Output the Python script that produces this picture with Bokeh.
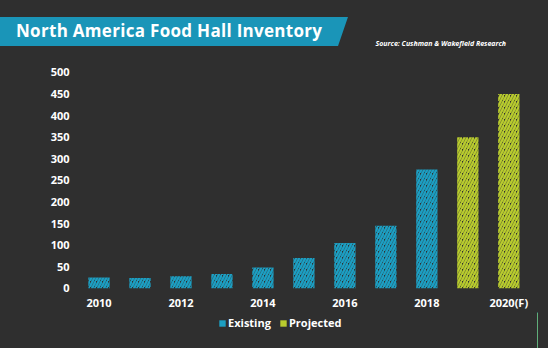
from bokeh.plotting import figure
from bokeh.layouts import column
from bokeh.models import ColumnDataSource, Legend, LegendItem, FixedTicker, Div
from bokeh.embed import file_html
from bokeh.resources import INLINE

# data
years_existing = [2010, 2011, 2012, 2013, 2014, 2015, 2016, 2017, 2018]
values_existing = [25, 24, 28, 33, 48, 70, 105, 145, 275]
years_projected = [2019, 2020]
values_projected = [350, 450]
x_ticks = [2010, 2012, 2014, 2016, 2018, 2020]
x_tick_labels = ["2010", "2012", "2014", "2016", "2018", "2020(F)"]
y_ticks = [0, 50, 100, 150, 200, 250, 300, 350, 400, 450, 500]
series_labels = ["Existing", "Projected"]
title_text = "North America Food Hall Inventory"
source_text = "Source: Cushman &amp; Wakefield Research"

BG = "#2f2f2f"
BLUE = "#1c9fc3"
GREEN = "#b8cb2e"
FONT = "Open Sans"


def plain(fig):
    fig.background_fill_color = None
    fig.border_fill_color = None
    fig.outline_line_color = None
    fig.grid.visible = False
    fig.styles = {"background-color": BG}


# ---------- header ----------
header_html = f"""
<div style="position:relative;width:548px;height:59px;background:{BG};overflow:hidden;">
  <div style="position:absolute;left:0;top:17px;width:348px;height:29px;background:#1a95b8;
              clip-path:polygon(0 0,348px 0,338px 29px,0 29px);"></div>
  <div style="position:absolute;left:16px;top:16px;height:29px;line-height:29px;color:white;letter-spacing:0.3px;
              font-family:'{FONT}';font-weight:bold;font-size:17px;white-space:nowrap;">{title_text}</div>
  <div style="position:absolute;right:42px;top:39px;line-height:10px;color:white;
              font-family:'{FONT}';font-weight:bold;font-style:italic;font-size:7px;white-space:nowrap;">{source_text}</div>
</div>
"""
h = Div(text=header_html, width=548, height=59, margin=(0, 0, 0, 0))

# ---------- main chart ----------
p = figure(width=548, height=253, output_backend="svg", toolbar_location=None,
           x_range=(2009.5, 2020.7), y_range=(-5, 530),
           min_border_left=78, min_border_right=11, min_border_top=0, min_border_bottom=22)
plain(p)

src_e = ColumnDataSource(dict(x=years_existing, top=values_existing))
src_p = ColumnDataSource(dict(x=years_projected, top=values_projected))

bar_style = dict(bottom=0, width=0.52, fill_color=None, line_color=None,
                 hatch_pattern="/", hatch_weight=2.4, hatch_scale=6)
p.vbar(x="x", top="top", source=src_e, hatch_color=BLUE, **bar_style)
p.vbar(x="x", top="top", source=src_p, hatch_color=GREEN, **bar_style)

for ax in (p.xaxis[0], p.yaxis[0]):
    ax.axis_line_color = None
    ax.major_tick_line_color = None
    ax.minor_tick_line_color = None
    ax.major_tick_out = 0
    ax.minor_tick_out = 0
    ax.major_label_text_color = "white"
    ax.major_label_text_font = FONT
    ax.major_label_text_font_style = "bold"
    ax.major_label_text_font_size = "11px"

p.xaxis.ticker = FixedTicker(ticks=x_ticks)
p.xaxis.major_label_overrides = {t: l for t, l in zip(x_ticks, x_tick_labels)}
p.xaxis.major_label_standoff = 4
p.yaxis.ticker = FixedTicker(ticks=y_ticks)
p.yaxis.major_label_standoff = 9

# ---------- footer with legend (its bars fall outside this strip's range) ----------
f = figure(width=548, height=36, output_backend="svg", toolbar_location=None,
           x_range=(0, 1), y_range=(0, 1), x_axis_type=None, y_axis_type=None,
           min_border_left=78, min_border_right=11, min_border_top=0, min_border_bottom=0)
plain(f)
leg_e = f.vbar(x="x", top="top", source=src_e, bottom=0, width=0.5,
               line_color=None, fill_color=BLUE)
leg_p = f.vbar(x="x", top="top", source=src_p, bottom=0, width=0.5,
               line_color=None, fill_color=GREEN)

legend = Legend(items=[LegendItem(label=series_labels[0], renderers=[leg_e]),
                       LegendItem(label=series_labels[1], renderers=[leg_p])],
                orientation="horizontal", location=(140, 18),
                background_fill_alpha=0, border_line_color=None,
                label_text_color="white", label_text_font=FONT,
                label_text_font_size="11px", label_text_font_style="bold",
                glyph_width=8, glyph_height=8, spacing=8, label_standoff=2,
                padding=0, margin=0)
f.add_layout(legend)

layout = column(h, p, f, spacing=0)
layout.styles = {"background-color": BG}
open("out.html", "w").write(file_html(layout, INLINE))
